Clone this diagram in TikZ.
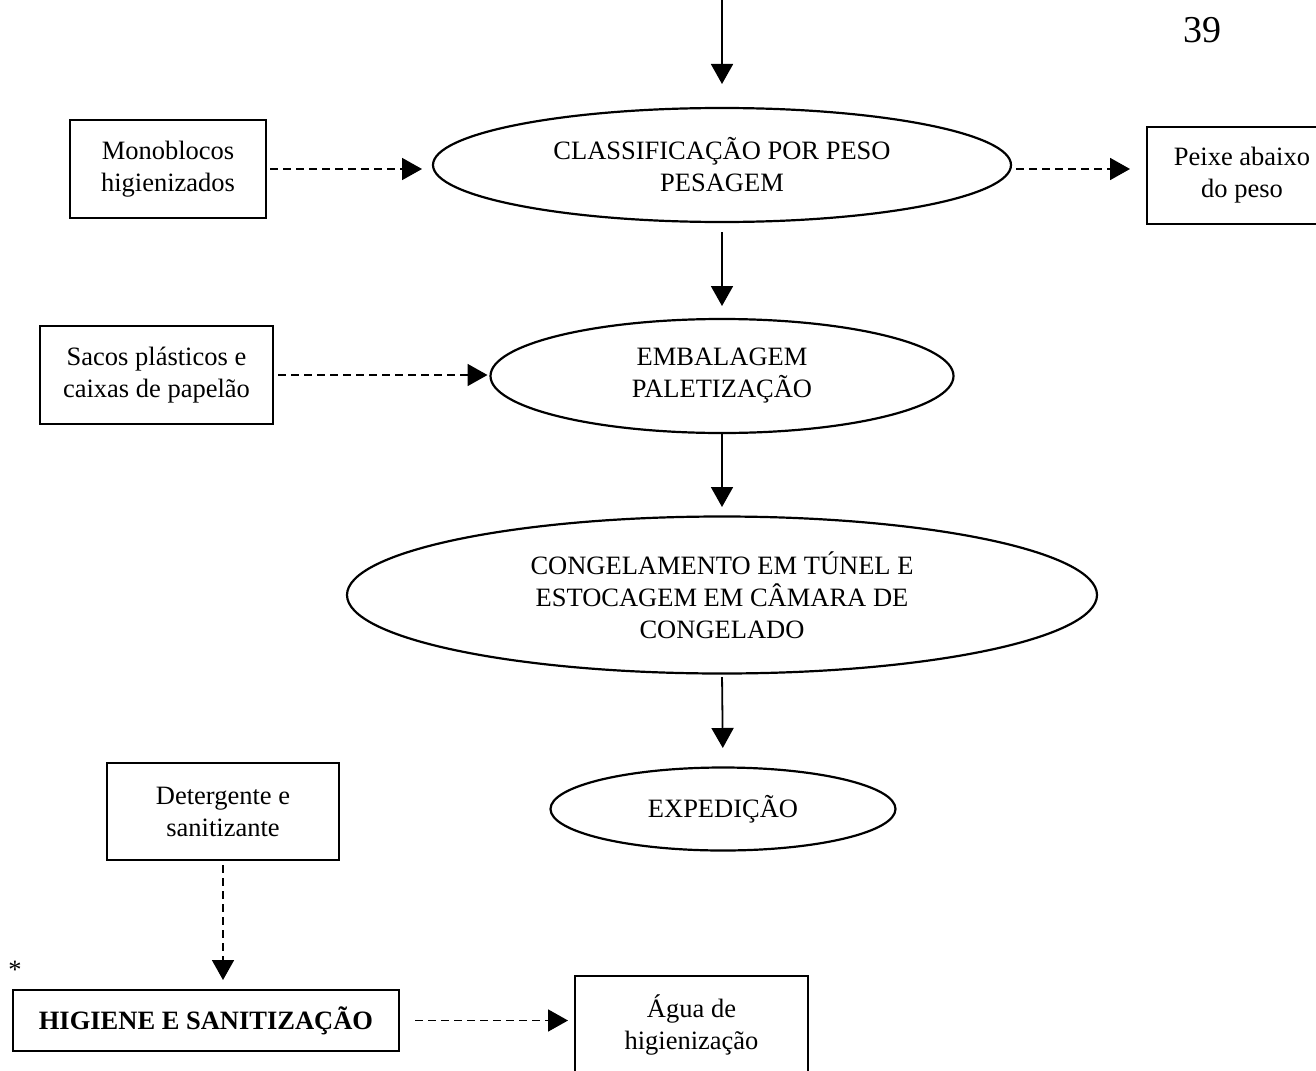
\documentclass[tikz,border=0pt]{standalone}
\usepackage{fontspec}
\setmainfont{Liberation Serif}
\usetikzlibrary{shapes.geometric,arrows.meta}
\begin{document}
\begin{tikzpicture}[x=0.5pt,y=-0.5pt,
  sz/.style 2 args={minimum width=#1*0.5pt,minimum height=#2*0.5pt},
  txt/.style={font=\fontsize{13.25}{16}\selectfont,align=center,inner sep=0pt,outer sep=0pt},
  stage/.style={txt,ellipse,draw,line width=1.1pt},
  item/.style={txt,rectangle,draw,line width=0.9pt},
  flow/.style={line width=0.9pt,-{Triangle[length=10pt,width=11pt]}},
  aux/.style={flow,dash pattern=on 4pt off 2.5pt},
]
\clip (0,0) rectangle (1316,1070);
\fill[white] (0,0) rectangle (1316,1070);

% page number
\node[font=\fontsize{19}{22}\selectfont,inner sep=0pt] (pg) at (1202,30) {39};

% main process stages
\node[stage,sz={578}{114}] (e1) at (722,165) {CLASSIFICAÇÃO POR PESO\\PESAGEM};
\node[stage,sz={463}{114}] (e2) at (722,376) {EMBALAGEM\\PALETIZAÇÃO};
\node[stage,sz={750}{157}] (e3) at (722,595) {CONGELAMENTO EM TÚNEL E\\ESTOCAGEM EM CÂMARA DE\\CONGELADO};
\node[stage,sz={345}{83}] (e4) at (723,809) {EXPEDIÇÃO};

% inputs and outputs
\node[item,sz={196}{98}] (mono) at (168,169) {Monoblocos\\higienizados};
\node[item,sz={190}{97}] (peixe) at (1242,175.5) {Peixe abaixo\\do peso};
\node[item,sz={233}{98}] (sacos) at (156.5,375) {Sacos plásticos e\\caixas de papelão};
\node[item,sz={232}{97}] (deterg) at (223,811.5) {Detergente e\\sanitizante};
\node[item,sz={386}{61}] (hig) at (206,1020.5) {\bfseries HIGIENE E SANITIZAÇÃO};
\node[item,sz={233}{97}] (agua) at (691.5,1024.5) {Água de\\higienização};
\node[txt] (star) at (15,970) {*};

% main flow
\coordinate (in) at (722,0);
\draw[flow,shorten >=12pt] (in) -- (e1.north);
\draw[flow,shorten <=5pt,shorten >=6.5pt] (e1.south) -- (e2.north);
\draw[flow,shorten >=4.75pt] (e2.south) -- (e3.north);
\draw[flow,shorten <=1.75pt,shorten >=9.75pt] (e3.south) -- (e4.north);

% auxiliary flows
\draw[aux,shorten <=2pt,shorten >=5.5pt] (mono.east) -- (mono.east -| e1.west);
\draw[aux,shorten <=2.5pt,shorten >=8.5pt] (e1.east |- mono.east) -- (mono.east -| peixe.west);
\draw[aux,shorten <=2.5pt,shorten >=1.5pt] (sacos.east) -- (sacos.east -| e2.west);
\draw[aux,shorten <=2.5pt,shorten >=5pt] (deterg.south) -- (deterg.south |- hig.north);
\draw[aux,shorten <=8pt,shorten >=3.5pt] (hig.east) -- (hig.east -| agua.west);
\end{tikzpicture}
\end{document}
